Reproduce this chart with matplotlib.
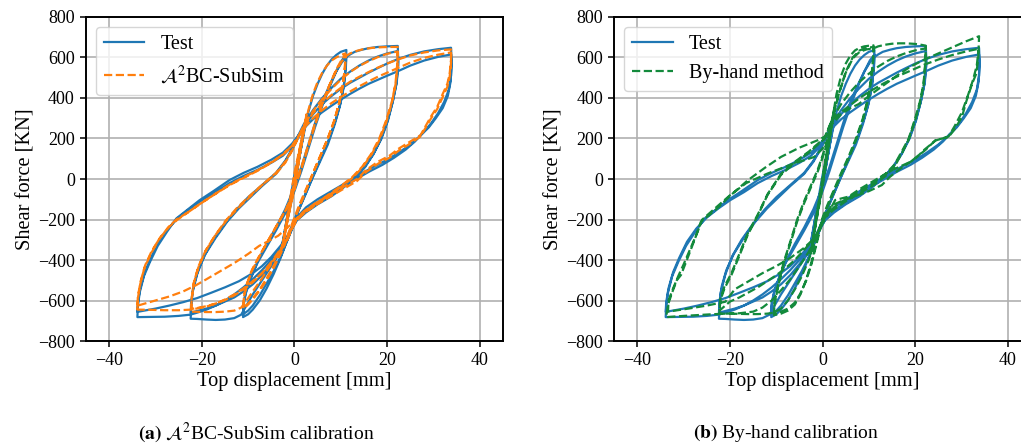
import matplotlib.pyplot as plt

plt.rcParams['font.family'] = ['Liberation Serif', 'DejaVu Serif']
plt.rcParams['mathtext.fontset'] = 'stix'

# Test data (displacement [mm], shear force [kN])
test_pts = [
    (0, 0), (1, 120), (2.2, 260), (1.4, 150), (0, -30), (-1.1, -150), (-2.2, -280), (-1.4, -160),
    (0, 20), (1.2, 150), (2.6, 310), (1.6, 180), (0, -40), (-1.2, -170), (-2.6, -320), (-1.6, -190), (0, -20),
    # 11 mm cycles
    (1, 100), (2, 220), (3, 330), (4, 410), (5, 470), (6, 520), (7, 560), (8, 590), (9, 612), (10, 628), (11.2, 637),
    (11.1, 570), (10.7, 470), (10, 380), (9, 300), (7.5, 200), (6, 120), (4.5, 40), (3, -40), (1.5, -120), (0, -200),
    (-1.5, -300), (-3, -390), (-4.5, -470), (-6, -540), (-7.5, -600), (-9, -645), (-10, -668), (-11.1, -682),
    (-11, -625), (-10.5, -565), (-9.5, -495), (-8, -415), (-6, -335), (-4, -255), (-2, -170), (0, -60), (1.5, 40),
    (3, 150), (4.5, 260), (6, 360), (7.5, 450), (9, 530), (10.2, 585), (11.2, 615),
    (11.1, 550), (10.6, 450), (9.8, 360), (8.7, 270), (7.2, 170), (5.6, 90), (4, 10), (2.5, -70), (1, -150), (0, -205),
    (-1.5, -300), (-3, -385), (-4.5, -455), (-6, -515), (-7.5, -575), (-9, -625), (-10, -650), (-11.1, -668),
    (-11, -610), (-10.4, -550), (-9.3, -480), (-7.8, -400), (-6, -320), (-4, -240), (-2, -150), (0, -40), (1.5, 60),
    (3, 170), (4.5, 280), (6, 380), (7.5, 460), (9, 530), (10.2, 575), (11.2, 602),
    # 22 mm cycles
    (12, 615), (13, 628), (14.5, 638), (16, 646), (18, 652), (20, 655), (22.3, 657),
    (22.4, 580), (22.1, 480), (21.3, 390), (20.2, 290), (18.8, 200), (17.2, 130), (15.3, 60), (13.2, 10), (11, -30),
    (8, -80), (5, -120), (2.5, -160), (0.5, -200),
    (-0.5, -245), (-1.5, -300), (-3, -360), (-5, -430), (-7, -500), (-9, -570), (-10.5, -630), (-11.5, -670),
    (-13, -687), (-15, -694), (-17, -696), (-19, -694), (-21, -691), (-22.4, -690),
    (-22.3, -640), (-22, -560), (-21, -470), (-19.5, -380), (-17.5, -300), (-15, -220), (-12.5, -150), (-10, -90),
    (-7, -30), (-4, 30), (-2, 90), (-0.5, 150), (0.5, 200),
    (2, 270), (4, 340), (6, 400), (8, 450), (10, 495), (12, 530), (14, 560), (16, 585), (18, 605), (20, 620), (22.3, 632),
    (22.4, 560), (22, 470), (21.2, 380), (20, 280), (18.5, 190), (17, 120), (15, 55), (13, 5), (11, -35), (8, -85),
    (5, -125), (2.5, -165), (0.5, -205), (-0.5, -245), (-1.5, -300), (-3, -355), (-5, -420), (-7, -475), (-9, -520),
    (-11, -555), (-13, -585), (-15, -605), (-17, -625), (-19, -640), (-21, -652), (-22.4, -660),
    (-22.3, -610), (-21.8, -530), (-20.8, -450), (-19.2, -370), (-17, -290), (-14.5, -210), (-12, -145), (-9.5, -90),
    (-7, -35), (-4, 25), (-2, 85), (-0.5, 145), (0.5, 190),
    # 34 mm cycles
    (2, 255), (4, 320), (6, 370), (8, 410), (10, 445), (12, 475), (14, 500), (16, 525), (18, 548), (20, 570),
    (22.3, 592), (25, 613), (28, 630), (31, 641), (33.8, 648),
    (33.9, 590), (33.8, 510), (33.3, 440), (32.3, 380), (31, 325), (29.5, 275), (28, 235), (26, 185), (24, 145),
    (21.5, 105), (19, 70), (16, 35), (13, -5), (10, -45), (7, -85), (4, -130), (2, -165), (0.5, -200),
    (-0.5, -240), (-1.5, -290), (-3, -340), (-5, -400), (-7, -450), (-9, -495), (-11, -535), (-13, -570), (-15, -600),
    (-17, -625), (-19, -645), (-21, -660), (-22.5, -670), (-25, -676), (-28, -680), (-31, -681), (-33.9, -682),
    (-33.8, -630), (-33.4, -560), (-32.5, -480), (-31.2, -410), (-29.5, -330), (-27.5, -260), (-25.5, -195),
    (-23, -150), (-20.5, -105), (-17.5, -60), (-14, -5), (-11, 30), (-8, 60), (-5, 95), (-2.5, 130), (-0.5, 175), (0.5, 205),
    (2, 250), (4, 295), (6, 330), (8, 362), (10, 392), (12, 420), (14, 446), (16, 470), (18, 490), (20, 510),
    (22.3, 532), (25, 560), (28, 585), (31, 603), (33.8, 615),
    (33.9, 560), (33.7, 480), (33.1, 410), (32, 350), (30.5, 300), (29, 255), (27, 210), (25, 170), (22.5, 130),
    (20, 95), (17, 60), (14, 20), (11, -20), (8, -60), (5, -100), (2.5, -140), (0.5, -190), (-0.5, -230),
    (-1.5, -280), (-3, -330), (-5, -385), (-7, -430), (-9, -465), (-12, -505), (-15, -535), (-18, -562), (-21, -588),
    (-24, -608), (-27, -625), (-30, -640), (-33.9, -656),
    (-33.8, -610), (-33.3, -540), (-32.3, -460), (-31, -390), (-29.3, -310), (-27.3, -245), (-25, -190),
    (-22.5, -145), (-20, -105), (-17, -65), (-14, -20), (-11, 15), (-8, 45), (-5, 80), (-2.5, 115), (-1, 150), (0, 180),
]

# A2BC-SubSim calibrated model
subsim_pts = [
    (0, 0), (1, 130), (2.2, 270), (1.3, 140), (0, -40), (-1.1, -160), (-2.2, -290), (-1.3, -150),
    (0, 30), (1.3, 170), (2.6, 320), (1.5, 170), (0, -50), (-1.3, -180), (-2.6, -330), (-1.5, -180), (0, -10),
    (1, 110), (2, 230), (3, 340), (4, 420), (5, 480), (6, 525), (7, 560), (8, 585), (9, 600), (10, 612), (11, 620),
    (10.9, 560), (10.5, 470), (9.7, 380), (8.6, 290), (7.2, 200), (5.7, 120), (4.2, 40), (2.8, -40), (1.4, -120), (0, -200),
    (-1.5, -290), (-3, -370), (-4.5, -440), (-6, -500), (-7.5, -550), (-9, -595), (-10, -620), (-11, -640),
    (-10.9, -580), (-10.3, -520), (-9.2, -450), (-7.6, -380), (-5.8, -310), (-3.8, -230), (-1.8, -150), (0, -50),
    (1.5, 50), (3, 160), (4.5, 270), (6, 370), (7.5, 460), (9, 540), (10.2, 590), (11, 615),
    (10.9, 550), (10.4, 460), (9.6, 370), (8.5, 280), (7, 190), (5.5, 110), (4, 30), (2.5, -50), (1, -130), (0, -190),
    (-1.5, -280), (-3, -360), (-4.5, -430), (-6, -490), (-7.5, -545), (-9, -590), (-10, -615), (-11, -635),
    (-10.9, -575), (-10.2, -515), (-9, -445), (-7.4, -375), (-5.6, -300), (-3.6, -220), (-1.6, -140), (0, -40),
    (1.5, 60), (3, 170), (4.5, 280), (6, 375), (7.5, 460), (9, 535), (10.2, 580), (11, 605),
    (12, 620), (13.5, 633), (15, 642), (17, 648), (19, 651), (21, 652), (22.3, 652),
    (22.2, 570), (21.8, 470), (21, 380), (19.8, 290), (18.3, 200), (16.6, 125), (14.6, 60), (12.5, 10), (10, -35),
    (7.5, -75), (5, -115), (2.5, -155), (0.5, -195),
    (-0.5, -235), (-1.5, -290), (-3, -350), (-5, -420), (-7, -490), (-9, -555), (-10.5, -605), (-11.5, -635),
    (-13, -650), (-15, -655), (-17, -657), (-19, -657), (-21, -656), (-22.3, -655),
    (-22.2, -600), (-21.8, -520), (-20.8, -440), (-19.3, -360), (-17.3, -285), (-15, -210), (-12.5, -145), (-10, -90),
    (-7, -30), (-4, 25), (-2, 80), (-0.5, 140), (0.5, 190),
    (2, 265), (4, 335), (6, 395), (8, 445), (10, 490), (12, 528), (14, 558), (16, 582), (18, 602), (20, 618), (22.3, 630),
    (22.2, 555), (21.8, 465), (21, 375), (19.8, 280), (18.3, 190), (16.6, 120), (14.6, 55), (12.5, 5), (10, -40),
    (7.5, -80), (5, -120), (2.5, -160), (0.5, -200), (-0.5, -240), (-1.5, -290), (-3, -345), (-5, -410), (-7, -465),
    (-9, -510), (-11, -545), (-13, -575), (-15, -598), (-17, -615), (-19, -628), (-21, -637), (-22.3, -642),
    (-22.2, -590), (-21.7, -510), (-20.7, -430), (-19.1, -350), (-17, -275), (-14.5, -200), (-12, -140), (-9.5, -85),
    (-7, -30), (-4, 30), (-2, 85), (-0.5, 145), (0.5, 190),
    (2, 260), (4, 325), (6, 375), (8, 415), (10, 450), (12, 480), (14, 505), (16, 528), (18, 550), (20, 570),
    (22.3, 590), (25, 610), (28, 625), (31, 635), (33.8, 640),
    (33.8, 590), (33.5, 520), (33, 470), (32, 420), (30.8, 356), (29.5, 310), (28.6, 273), (27.2, 216), (25, 185),
    (22.5, 150), (20.5, 115), (18, 85), (15.5, 45), (13.5, 0), (10.5, -40), (7.5, -80), (4.5, -120), (2, -160), (0.5, -195),
    (-1.5, -240), (-3.5, -280), (-5.5, -305), (-7.6, -330), (-10, -370), (-13, -415), (-16, -455), (-19, -495),
    (-21.3, -525), (-24, -555), (-27, -580), (-30, -600), (-33.8, -625), (-33.9, -640),
    (-33.8, -590), (-33.3, -520), (-32.4, -440), (-31, -370), (-29.3, -300), (-27.3, -240), (-25.5, -200),
    (-23, -165), (-20.5, -125), (-17.5, -80), (-14, -30), (-11, 5), (-8, 40), (-5, 80), (-2.5, 120), (-0.5, 165), (0.5, 200),
    (2, 250), (4, 300), (6, 340), (8, 375), (10, 405), (12, 432), (14, 458), (16, 482), (18, 505), (20, 525),
    (22.3, 548), (25, 575), (28, 598), (31, 614), (33.8, 625),
    (33.8, 575), (33.5, 505), (33, 455), (32, 405), (30.8, 345), (29.5, 300), (28.6, 265), (27.2, 210), (25, 175),
    (22.5, 140), (20.5, 105), (18, 75), (15.5, 35), (13.5, -10), (10.5, -50), (7.5, -90), (4.5, -130), (2, -170),
    (0.5, -205), (-0.5, -245), (-1.5, -300), (-3, -355), (-5, -415), (-7, -465), (-9, -505), (-11, -540), (-13, -570),
    (-15, -595), (-17, -615), (-19, -630), (-22.3, -645), (-25, -648), (-28, -648), (-31, -646), (-33.9, -645),
    (-33.8, -580), (-33.2, -505), (-32.2, -425), (-30.8, -355), (-29, -290), (-27, -235), (-25.2, -200),
    (-22.7, -160), (-20.2, -120), (-17.2, -75), (-13.8, -25), (-10.8, 10), (-7.8, 45), (-4.8, 85), (-2.3, 125),
    (-0.5, 165), (0.5, 195),
]

# By-hand calibrated model
byhand_pts = [
    (0, 0), (1, 150), (2.2, 300), (1.4, 180), (0, -20), (-1.1, -170), (-2.2, -320), (-1.4, -190),
    (0, 10), (1.3, 190), (2.6, 360), (1.6, 210), (0, -40), (-1.3, -200), (-2.6, -370), (-1.6, -220), (0, -20),
    (1, 130), (2, 280), (3, 420), (4, 510), (5, 570), (6, 610), (7, 635), (8, 648), (9, 655), (10, 658), (11, 660),
    (10.9, 590), (10.5, 500), (9.8, 400), (8.7, 300), (7.2, 200), (5.6, 110), (4, 30), (2.5, -50), (1, -130), (0, -190),
    (-1.2, -300), (-2.4, -410), (-3.6, -500), (-4.8, -570), (-6, -620), (-7.5, -650), (-9, -665), (-10.5, -672),
    (-10.4, -620), (-9.6, -530), (-8.4, -420), (-7, -320), (-5.5, -210), (-4, -120), (-2.5, -40), (-1, 40),
    (0.5, 140), (2, 280), (3.5, 420), (5, 530), (6.5, 600), (8, 635), (9.5, 648), (11, 652),
    (10.9, 580), (10.5, 490), (9.8, 390), (8.7, 290), (7.2, 190), (5.6, 100), (4, 20), (2.5, -60), (1, -140), (0, -200),
    (-1.2, -310), (-2.4, -420), (-3.6, -505), (-4.8, -565), (-6, -610), (-7.5, -640), (-9, -655), (-10.5, -662),
    (-10.4, -610), (-9.6, -520), (-8.4, -410), (-7, -310), (-5.5, -200), (-4, -110), (-2.5, -30), (-1, 50),
    (0.5, 150), (2, 290), (3.5, 420), (5, 525), (6.5, 595), (8, 628), (9.5, 640), (11, 645),
    (12, 655), (13.5, 663), (15, 668), (16.5, 670), (18, 670), (20, 667), (21.5, 662), (22.3, 658),
    (22.2, 580), (21.8, 470), (21, 380), (20, 300), (18.6, 200), (17.2, 140), (15.5, 70), (13.6, 26), (11, -20),
    (8, -60), (5, -100), (2.5, -140), (0.5, -180),
    (-0.5, -230), (-1.5, -300), (-3, -400), (-4.5, -480), (-6, -545), (-7.5, -600), (-9, -640), (-10.5, -660),
    (-12, -665), (-14, -667), (-16, -667), (-18, -666), (-20, -665), (-22.3, -665),
    (-22.1, -600), (-21.2, -540), (-19.7, -474), (-18, -380), (-16.2, -277), (-14, -180), (-11.9, -79), (-9, 20),
    (-6, 80), (-3, 130), (-1, 170), (0.5, 200),
    (2, 290), (4, 370), (6, 430), (8, 480), (10, 520), (12, 555), (14, 583), (16, 605), (18, 622), (20, 635), (22.3, 645),
    (22.2, 570), (21.8, 460), (21, 370), (20, 290), (18.6, 195), (17.2, 130), (15.5, 60), (13.6, 15), (11, -30),
    (8, -70), (5, -110), (2.5, -150), (0.5, -190), (-0.5, -240), (-1.8, -293), (-4, -350), (-6, -400), (-8, -440),
    (-10, -475), (-12, -505), (-14, -535), (-16, -560), (-18, -585), (-20, -605), (-22.3, -650),
    (-22.1, -590), (-21.2, -530), (-19.7, -465), (-18, -370), (-16.2, -270), (-14, -175), (-11.9, -75), (-9, 25),
    (-6, 85), (-3, 135), (-1, 175), (0.5, 205),
    (2, 270), (4, 320), (6, 350), (7.8, 370), (10, 410), (13, 460), (16, 510), (19, 555), (22, 590), (25, 620),
    (28, 650), (31, 680), (33.8, 705),
    (33.7, 640), (33.3, 560), (32.5, 490), (31.5, 420), (30.1, 330), (28.5, 260), (27.2, 210), (24.4, 190), (22, 145),
    (20, 100), (17, 55), (14.5, 10), (12.8, -30), (10, -60), (7, -85), (4, -110), (2, -130), (0.5, -180),
    (-1.5, -290), (-3, -360), (-5, -430), (-7, -495), (-9, -550), (-11, -600), (-13, -635), (-15, -655), (-18, -663),
    (-21, -665), (-24, -668), (-27, -672), (-30, -676), (-33.8, -682),
    (-33.4, -620), (-32.5, -560), (-31.5, -500), (-30.6, -474), (-29, -380), (-27.5, -290), (-26.3, -211),
    (-23, -150), (-19.8, -79), (-16.2, -7), (-12.5, 55), (-9, 109), (-5, 155), (-1.1, 191), (0.5, 210),
    (2, 290), (4, 330), (6, 365), (8, 400), (10, 430), (13, 470), (16, 505), (19, 535), (22, 565), (25, 590),
    (28, 612), (31, 630), (33.7, 643),
    (33.6, 590), (33.2, 520), (32.3, 471), (31, 380), (30.1, 306), (28.5, 245), (27.2, 207), (24.4, 192), (22.2, 143),
    (19, 85), (15, 44), (11, -10), (8, -50), (5.6, -87), (2.7, -104), (0.5, -200), (-1.8, -293), (-4, -340),
    (-7, -390), (-10, -430), (-13, -465), (-16, -505), (-19, -545), (-21, -606), (-25, -625), (-29, -640), (-33.4, -655),
    (-33.3, -600), (-32.3, -540), (-31.2, -480), (-30, -420), (-28.5, -340), (-27, -260), (-26, -200), (-23, -140),
    (-20, -80), (-16.5, -20), (-12, 26), (-7, 70), (-1.8, 109), (0, 150), (0.5, 180),
]

test_x, test_y = zip(*test_pts)
subsim_x, subsim_y = zip(*subsim_pts)
byhand_x, byhand_y = zip(*byhand_pts)

fig = plt.figure(figsize=(10.21, 4.46), dpi=100)
ax1 = fig.add_axes([0.0842, 0.2354, 0.4084, 0.7265])
ax2 = fig.add_axes([0.6017, 0.2354, 0.408, 0.7265])

panels = [
    (ax1, subsim_x, subsim_y, '#ff7f0e', r'$\mathcal{A}^2$BC-SubSim'),
    (ax2, byhand_x, byhand_y, '#138a3c', 'By-hand method'),
]
for ax, mx, my, col, lab in panels:
    ax.plot(test_x, test_y, color='#1f77b4', lw=1.6, label='Test')
    ax.plot(mx, my, color=col, lw=1.6, ls='--', label=lab)
    ax.set_xlim(-45, 45)
    ax.set_ylim(-800, 800)
    ax.set_xticks([-40, -20, 0, 20, 40])
    ax.set_yticks(range(-800, 801, 200))
    ax.grid(True, color='#b0b0b0', lw=1.2)
    ax.set_axisbelow(True)
    ax.tick_params(labelsize=13, length=4.5, width=1.1)
    for sp in ax.spines.values():
        sp.set_linewidth(1.4)
    ax.set_xlabel('Top displacement [mm]', fontsize=14.7, labelpad=2)
    ax.set_ylabel('Shear force [KN]', fontsize=14.7, labelpad=2)
    ax.legend(loc='upper left', fontsize=14.5, handlelength=2.0)

fig.text(0.251, 0.029, r'$\mathbf{(a)}$ $\mathcal{A}^2$BC-SubSim calibration', ha='center', va='center', fontsize=14)
fig.text(0.770, 0.029, r'$\mathbf{(b)}$ By-hand calibration', ha='center', va='center', fontsize=14)

fig.savefig('out.png', dpi=100)
